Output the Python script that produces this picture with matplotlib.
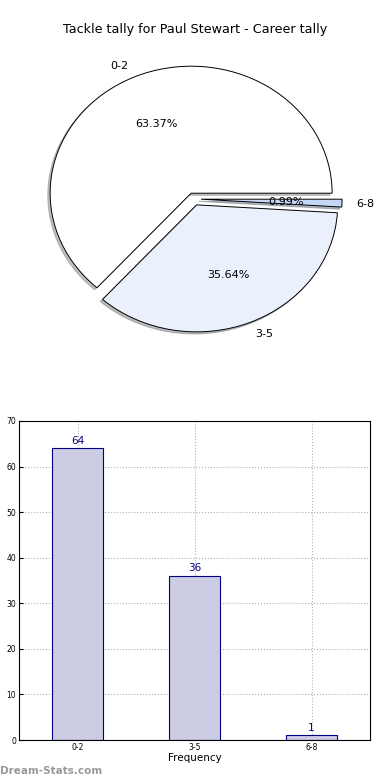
import matplotlib
matplotlib.use('Agg')
import matplotlib.pyplot as plt

# tally data
categories = ['0-2', '3-5', '6-8']
counts = [64, 36, 1]
pie_colors = ['#ffffff', '#eaf0fc', '#c5d8f7']
explode = [0.05, 0.05, 0.05]

fig = plt.figure(figsize=(3.9, 7.8), dpi=100)

# pie chart (not equal aspect, slightly elliptical like the original)
ax1 = fig.add_axes([(194 - 1.25 * 141) / 390, (780 - 199 - 1.25 * 127) / 780,
                    2.5 * 141 / 390, 2.5 * 127 / 780])
wedges, texts, autotexts = ax1.pie(counts, labels=categories, colors=pie_colors,
                                   explode=explode, autopct='%.2f%%',
                                   shadow={'ox': -0.012, 'oy': -0.012, 'shade': 0.5},
                                   startangle=0, labeldistance=1.1, pctdistance=0.6,
                                   wedgeprops={'edgecolor': 'black', 'linewidth': 0.7},
                                   textprops={'fontsize': 8})
ax1.set_aspect('auto')
ax1.set_xlim(-1.25, 1.25)
ax1.set_ylim(-1.25, 1.25)
ax1.axis('off')
fig.text(0.5, 1 - 30 / 780, 'Tackle tally for Paul Stewart - Career tally',
         ha='center', va='center', fontsize=9.2)

# bar chart
ax2 = fig.add_axes([19 / 390, 40 / 780, 351 / 390, 319 / 780])
x = range(len(categories))
bars = ax2.bar(x, counts, width=0.44, color='#ccccE4', edgecolor='navy', linewidth=0.8, zorder=2)
for xi, c in zip(x, counts):
    ax2.text(xi, c + 0.6, str(c), ha='center', va='bottom', color='navy', fontsize=7.5)
ax2.set_xlim(-0.5, 2.5)
ax2.set_ylim(0, 70)
ax2.set_xticks(list(x))
ax2.set_xticklabels(categories, fontsize=5.5)
ax2.set_yticks(range(0, 71, 10))
ax2.tick_params(axis='y', labelsize=5.5, direction='in', length=3, pad=2)
ax2.tick_params(axis='x', direction='in', length=3, pad=2)
ax2.grid(True, linestyle=':', color='#b0b0b0', linewidth=0.8, zorder=0)
ax2.set_xlabel('Frequency', fontsize=7.5, labelpad=1)

fig.text(0.0, 0.005, 'Dream-Stats.com', color='#999999', fontsize=7.5, fontweight='bold',
         ha='left', va='bottom')

plt.savefig('out.png', dpi=100)
